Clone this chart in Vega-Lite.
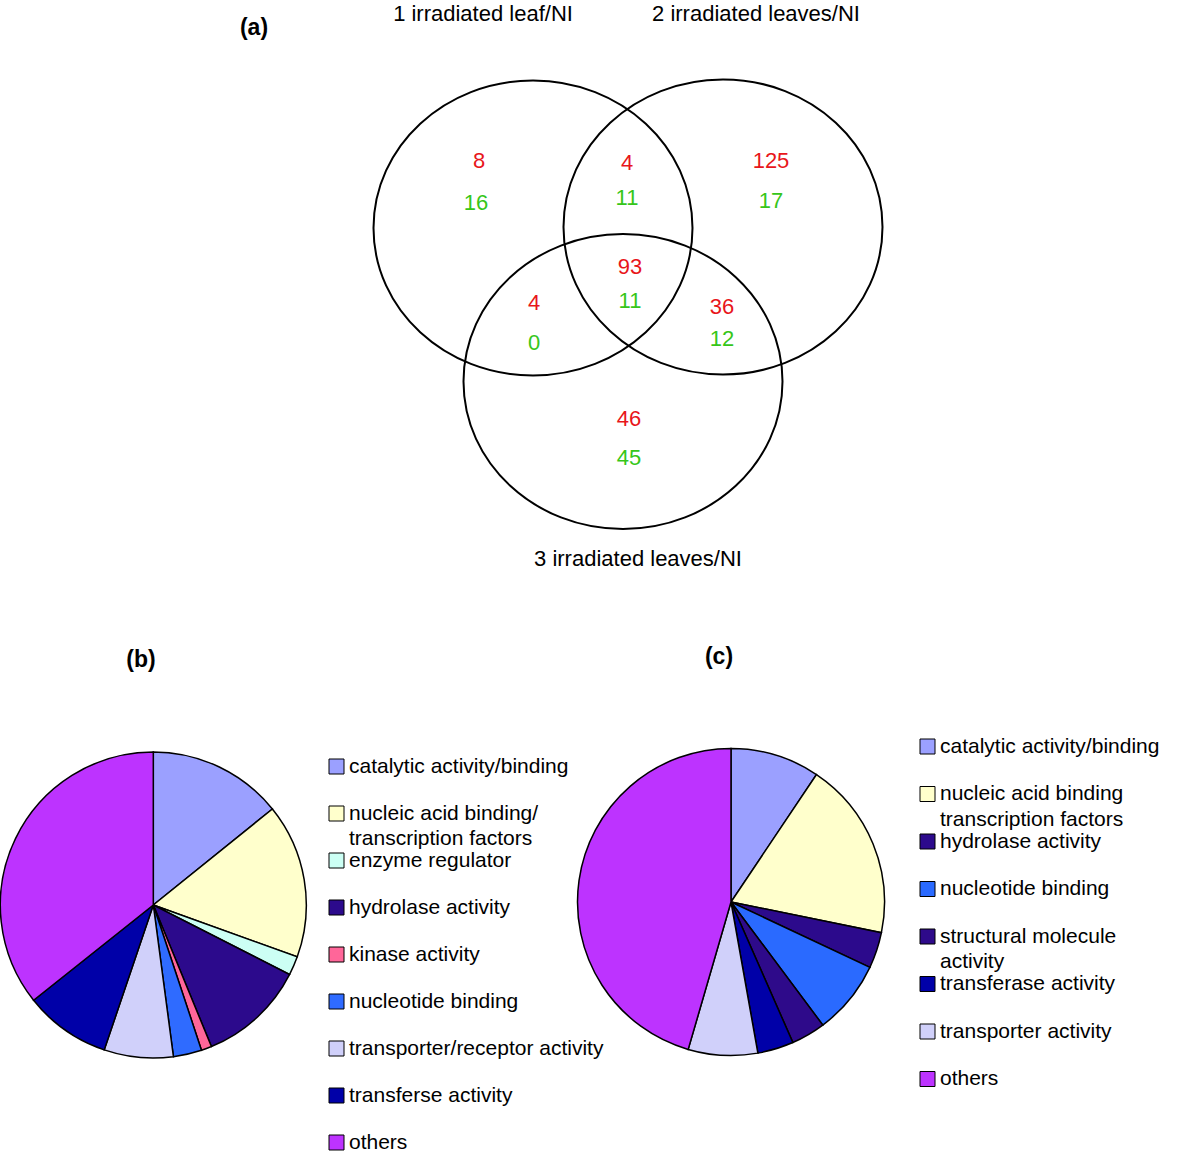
{
  "$schema": "https://vega.github.io/schema/vega-lite/v6.json",
  "width": 1200,
  "height": 1156,
  "autosize": {"type": "none"},
  "padding": 0,
  "background": "white",
  "config": {
    "view": {"stroke": null},
    "font": "Liberation Sans",
    "style": {"guide-label": {"lineHeight": 25.5}}
  },
  "datasets": {
    "sets": [
      {"set": "1 irradiated leaf/NI", "cx": 533, "cy": 228, "lx": 483, "ly": 14},
      {"set": "2 irradiated leaves/NI", "cx": 723, "cy": 227, "lx": 756, "ly": 14},
      {"set": "3 irradiated leaves/NI", "cx": 623, "cy": 381.5, "lx": 638, "ly": 559}
    ],
    "counts": [
      {"region": "1 only", "direction": "up", "count": 8, "x": 479, "y": 161},
      {"region": "1 only", "direction": "down", "count": 16, "x": 476, "y": 203},
      {"region": "1 and 2", "direction": "up", "count": 4, "x": 627, "y": 163},
      {"region": "1 and 2", "direction": "down", "count": 11, "x": 627, "y": 198},
      {"region": "2 only", "direction": "up", "count": 125, "x": 771, "y": 161},
      {"region": "2 only", "direction": "down", "count": 17, "x": 771, "y": 201},
      {"region": "1, 2 and 3", "direction": "up", "count": 93, "x": 630, "y": 267},
      {"region": "1, 2 and 3", "direction": "down", "count": 11, "x": 630, "y": 301},
      {"region": "1 and 3", "direction": "up", "count": 4, "x": 534, "y": 303},
      {"region": "1 and 3", "direction": "down", "count": 0, "x": 534, "y": 343},
      {"region": "2 and 3", "direction": "up", "count": 36, "x": 722, "y": 307},
      {"region": "2 and 3", "direction": "down", "count": 12, "x": 722, "y": 339},
      {"region": "3 only", "direction": "up", "count": 46, "x": 629, "y": 419},
      {"region": "3 only", "direction": "down", "count": 45, "x": 629, "y": 458}
    ],
    "panels": [
      {"panel": "(a)", "px": 254, "py": 28},
      {"panel": "(b)", "px": 141, "py": 660},
      {"panel": "(c)", "px": 719, "py": 657}
    ],
    "pieB": [
      {"order": 1, "category": "catalytic activity/binding", "percent": 14.2},
      {"order": 2, "category": "nucleic acid binding/transcription factors", "percent": 16.3},
      {"order": 3, "category": "enzyme regulator", "percent": 2.0},
      {"order": 4, "category": "hydrolase activity", "percent": 11.3},
      {"order": 5, "category": "kinase activity", "percent": 1.1},
      {"order": 6, "category": "nucleotide binding", "percent": 3.0},
      {"order": 7, "category": "transporter/receptor activity", "percent": 7.3},
      {"order": 8, "category": "transferse activity", "percent": 9.1},
      {"order": 9, "category": "others", "percent": 35.7}
    ],
    "pieC": [
      {"order": 1, "category": "catalytic activity/binding", "percent": 9.4},
      {"order": 2, "category": "nucleic acid binding transcription factors", "percent": 18.8},
      {"order": 3, "category": "hydrolase activity", "percent": 3.8},
      {"order": 4, "category": "nucleotide binding", "percent": 7.8},
      {"order": 5, "category": "structural molecule activity", "percent": 3.6},
      {"order": 6, "category": "transferase activity", "percent": 3.8},
      {"order": 7, "category": "transporter activity", "percent": 7.3},
      {"order": 8, "category": "others", "percent": 45.5}
    ]
  },
  "layer": [
    {
      "data": {"name": "sets"},
      "mark": {
        "type": "point",
        "shape": "M -1 0 A 1 0.925 0 1 1 1 0 A 1 0.925 0 1 1 -1 0 Z",
        "size": 101761,
        "filled": false,
        "stroke": "black",
        "strokeWidth": 2,
        "opacity": 1
      },
      "encoding": {
        "x": {"field": "cx", "type": "quantitative", "scale": {"domain": [0, 1200], "nice": false, "zero": false}, "axis": null},
        "y": {"field": "cy", "type": "quantitative", "scale": {"domain": [0, 1156], "reverse": true, "nice": false, "zero": false}, "axis": null}
      }
    },
    {
      "data": {"name": "sets"},
      "mark": {"type": "text", "fontSize": 22, "font": "Liberation Sans", "color": "black", "align": "center", "baseline": "middle"},
      "encoding": {
        "x": {"field": "lx", "type": "quantitative", "scale": {"domain": [0, 1200], "nice": false, "zero": false}, "axis": null},
        "y": {"field": "ly", "type": "quantitative", "scale": {"domain": [0, 1156], "reverse": true, "nice": false, "zero": false}, "axis": null},
        "text": {"field": "set", "type": "nominal"}
      }
    },
    {
      "data": {"name": "counts"},
      "mark": {"type": "text", "fontSize": 22, "font": "Liberation Sans", "align": "center", "baseline": "middle"},
      "encoding": {
        "x": {"field": "x", "type": "quantitative", "scale": {"domain": [0, 1200], "nice": false, "zero": false}, "axis": null},
        "y": {"field": "y", "type": "quantitative", "scale": {"domain": [0, 1156], "reverse": true, "nice": false, "zero": false}, "axis": null},
        "text": {"field": "count", "type": "quantitative"},
        "color": {"field": "direction", "type": "nominal", "scale": {"domain": ["up", "down"], "range": ["#e8161b", "#36c619"]}, "legend": null}
      }
    },
    {
      "data": {"name": "panels"},
      "mark": {"type": "text", "fontSize": 23, "font": "Liberation Sans", "fontWeight": "bold", "color": "black", "align": "center", "baseline": "middle"},
      "encoding": {
        "x": {"field": "px", "type": "quantitative", "scale": {"domain": [0, 1200], "nice": false, "zero": false}, "axis": null},
        "y": {"field": "py", "type": "quantitative", "scale": {"domain": [0, 1156], "reverse": true, "nice": false, "zero": false}, "axis": null},
        "text": {"field": "panel", "type": "nominal"}
      }
    },
    {
      "data": {"name": "pieB"},
      "mark": {"type": "arc", "outerRadius": 153, "stroke": "black", "strokeWidth": 1.5},
      "encoding": {
        "x": {"datum": 153.3, "type": "quantitative", "scale": {"domain": [0, 1200], "nice": false, "zero": false}, "axis": null},
        "y": {"datum": 905, "type": "quantitative", "scale": {"domain": [0, 1156], "reverse": true, "nice": false, "zero": false}, "axis": null},
        "theta": {"field": "percent", "type": "quantitative", "stack": true},
        "order": {"field": "order", "type": "quantitative"},
        "color": {
          "field": "category",
          "type": "nominal",
          "scale": {
            "domain": ["catalytic activity/binding", "nucleic acid binding/transcription factors", "enzyme regulator", "hydrolase activity", "kinase activity", "nucleotide binding", "transporter/receptor activity", "transferse activity", "others"],
            "range": ["#9ba0ff", "#ffffcc", "#ccfff4", "#2c0a8c", "#ff6699", "#2f6bff", "#d0d0fa", "#0000a8", "#bd33ff"]
          },
          "legend": {
            "title": null,
            "orient": "none",
            "legendX": 326,
            "legendY": 756,
            "padding": 0,
            "symbolType": "square",
            "symbolSize": 225,
            "symbolStrokeColor": "black",
            "symbolStrokeWidth": 1,
            "labelFont": "Liberation Sans",
            "labelFontSize": 21,
            "labelColor": "black",
            "labelOffset": 2,
            "labelLimit": 500,
            "rowPadding": 0,
            "labelExpr": "datum.label == 'nucleic acid binding/transcription factors' ? ['nucleic acid binding/', 'transcription factors'] : [datum.label, '']"
          }
        }
      }
    },
    {
      "data": {"name": "pieC"},
      "mark": {"type": "arc", "outerRadius": 153.5, "stroke": "black", "strokeWidth": 1.5},
      "encoding": {
        "x": {"datum": 731, "type": "quantitative", "scale": {"domain": [0, 1200], "nice": false, "zero": false}, "axis": null},
        "y": {"datum": 902, "type": "quantitative", "scale": {"domain": [0, 1156], "reverse": true, "nice": false, "zero": false}, "axis": null},
        "theta": {"field": "percent", "type": "quantitative", "stack": true},
        "order": {"field": "order", "type": "quantitative"},
        "color": {
          "field": "category",
          "type": "nominal",
          "scale": {
            "domain": ["catalytic activity/binding", "nucleic acid binding transcription factors", "hydrolase activity", "nucleotide binding", "structural molecule activity", "transferase activity", "transporter activity", "others"],
            "range": ["#9ba0ff", "#ffffcc", "#2c0a8c", "#2a6aff", "#2e0a8a", "#0000a8", "#d0d0fa", "#bd33ff"]
          },
          "legend": {
            "title": null,
            "orient": "none",
            "legendX": 917,
            "legendY": 736,
            "padding": 0,
            "symbolType": "square",
            "symbolSize": 225,
            "symbolStrokeColor": "black",
            "symbolStrokeWidth": 1,
            "labelFont": "Liberation Sans",
            "labelFontSize": 21,
            "labelColor": "black",
            "labelOffset": 2,
            "labelLimit": 500,
            "rowPadding": 0.5,
            "labelExpr": "datum.label == 'nucleic acid binding transcription factors' ? ['nucleic acid binding', 'transcription factors'] : datum.label == 'structural molecule activity' ? ['structural molecule', 'activity'] : [datum.label, '']"
          }
        }
      }
    }
  ],
  "resolve": {
    "scale": {"color": "independent", "theta": "independent"},
    "legend": {"color": "independent"}
  }
}
